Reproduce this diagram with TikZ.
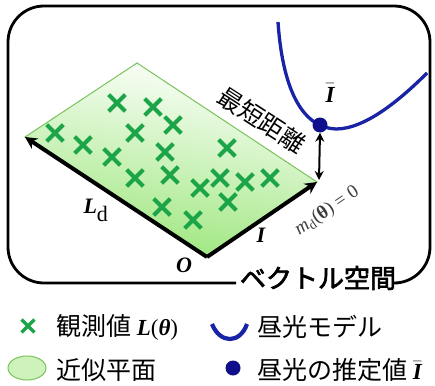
\documentclass[tikz,border=0pt]{standalone}
\usepackage{fontspec}
\usepackage{amsmath}
\setmainfont{Liberation Serif}
\newfontfamily\jp{Noto Sans CJK JP}[AutoFakeBold=2.5]
\usetikzlibrary{shapes.misc,arrows.meta}
\definecolor{xgreen}{RGB}{28,165,72}
\definecolor{planegreen}{RGB}{155,230,122}
\definecolor{planeedge}{RGB}{120,195,90}
\definecolor{curveblue}{RGB}{25,35,165}
\definecolor{dotblue}{RGB}{15,15,140}
\definecolor{labgray}{RGB}{60,60,60}
\newcommand\myIbar{\ensuremath{\bar{\text{\rmfamily\bfseries\itshape I}}}}
\begin{document}
\begin{tikzpicture}[x=1pt,y=-1pt,
  xmark/.style={cross out, draw=xgreen, line width=4.2pt, minimum size=12.5pt, inner sep=0pt},
  vec/.style={line width=4pt, -{Stealth[length=12pt,width=12pt]}},
  latlab/.style={font=\fontsize{22}{22}\selectfont\bfseries\itshape},
  bluedot/.style={circle, fill=dotblue, minimum size=15pt, inner sep=0pt},
  legtext/.style={anchor=west, inner sep=0pt, font=\jp\fontsize{25}{25}\selectfont}
]
\useasboundingbox (0,0) rectangle (435,385);
% frame
\draw[line width=2.8pt, rounded corners=36pt] (236,283) -- (8,283) -- (8,6) -- (430,6) -- (430,283) -- (398,283);
% plane
\coordinate (O) at (207,257);
\coordinate (A) at (25,137);
\coordinate (B) at (137,63);
\coordinate (C) at (317,182);
\shade[top color=white, bottom color=planegreen, shading angle=-10] (O) -- (A) -- (B) -- (C) -- cycle;
\draw[planeedge, line width=1pt] (O) -- (A) -- (B) -- (C) -- cycle;
% crosses
\foreach \p [count=\i] in {(55,133),(83,145),(117,103),(153,107),(173,125),(135,133),(112,157),(165,152),(135,178),(170,175),(227,148),(200,188),(220,178),(245,182),(270,178),(162,207),(228,202),(193,220)}
  \node[xmark] (x\i) at \p {};
% vectors
\draw[vec] (O) -- (A);
\draw[vec] (O) -- (C);
% curve and estimate
\draw[curveblue, line width=3.3pt] (278,22) .. controls (283,95) and (305,128) .. (336,129) .. controls (365,129) and (400,100) .. (427,73);
\node[bluedot] (dot) at (320,125) {};
\coordinate (Cb) at (319,180);
\draw[line width=2pt, {Stealth[length=9pt,width=9pt]}-{Stealth[length=9pt,width=9pt]}] (dot.south) -- (Cb);
% labels
\node[font=\fontsize{23}{23}\selectfont] (ibar) at (330,93) {\myIbar};
\node[font=\jp\fontsize{24.5}{24.5}\selectfont, rotate=-33] (short) at (262,120) {最短距離};
\node[latlab] (ld) at (96,210) {L\textsubscript{\normalfont\fontsize{22}{22}\selectfont d}};
\node[latlab] (il) at (261,235) {I};
\node[latlab] (ol) at (184,265) {O};
\node[rotate=34, text=labgray, font=\fontsize{19}{19}\selectfont] (md) at (327,211) {\textit{m}\textsubscript{d}(\textbf{θ}) = 0};
\node[font=\jp\bfseries\fontsize{26}{26}\selectfont, inner sep=0pt] (vs) at (318,278) {ベクトル空間};
% legend
\node[xmark, minimum size=9.5pt, line width=3.4pt] (lx) at (28,326) {};
\node[legtext] (l1) at (56,327) {観測値 {\rmfamily\fontsize{23}{23}\selectfont{\bfseries\itshape L}(\textbf{\itshape θ})}};
\draw[curveblue, line width=4.2pt] (212,324) .. controls (220,344) and (240,344) .. (247,324);
\node[legtext] (l2) at (257,327) {昼光モデル};
\filldraw[fill=planegreen!50, draw=planeedge, line width=1pt] (27,368) ellipse [x radius=19, y radius=12];
\node[legtext] (l3) at (56,370) {近似平面};
\node[bluedot] (ldot) at (233,368) {};
\node[legtext] (l4) at (257,370) {昼光の推定値 {\fontsize{23}{23}\selectfont\myIbar}};
\end{tikzpicture}
\end{document}
